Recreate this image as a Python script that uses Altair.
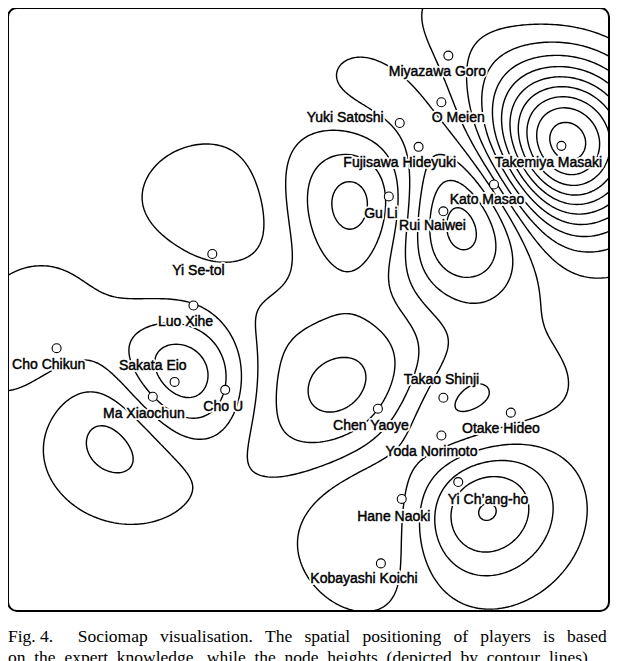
import numpy as np
import pandas as pd
import altair as alt
from collections import defaultdict

# ---------------- data (reference pixel space) ----------------
players = ["Miyazawa Goro", "O Meien", "Yuki Satoshi", "Fujisawa Hideyuki",
           "Takemiya Masaki", "Kato Masao", "Gu Li", "Rui Naiwei",
           "Yi Se-tol", "Luo Xihe", "Cho Chikun", "Sakata Eio", "Ma Xiaochun",
           "Cho U", "Chen Yaoye", "Takao Shinji", "Otake Hideo", "Yoda Norimoto",
           "Yi Ch\u2019ang-ho", "Hane Naoki", "Kobayashi Koichi"]
node_x = [447, 440, 398, 417, 561, 493, 387, 442, 209, 190, 52, 171, 149,
          222, 376, 442, 510, 440, 457, 400, 379]
node_y = [51, 98, 119, 143, 142, 181, 193, 208, 251, 303, 346, 380, 395,
          388, 407, 396, 411, 434, 481, 498, 563]
node_height = [2, 1, 0, 0, 12, 1, 3, -3, 0, 1, 0, -4, 1,
               0, 3, 0, 0, -1, 4, 0, 0]
label_x = [436, 457, 343, 398, 548, 486, 379, 431, 195, 182, 44, 149, 140,
           220, 369, 440, 500, 430, 487, 392, 362]
label_y = [68, 114, 114, 159, 159, 197, 211, 223, 268, 320, 363, 364, 412,
           405, 424, 378, 427, 451, 499, 516, 579]

caption = [
    "Fig. 4.\u2003\u2009\u2009Sociomap\u2002\u2009visualisation.\u2002\u2009The\u2002\u2009spatial\u2002\u2009positioning\u2002\u2009of\u2002\u2009players\u2002\u2009is\u2002\u2009based",
    "on\u2002the\u2002expert\u2002knowledge,\u2002while\u2002the\u2002node\u2002heights\u2002(depicted\u2002by\u2002contour\u2002lines)",
]

X0, X1, Y0, Y1 = 3, 609, 3, 611   # frame extent in the reference

# ---------------- height surface: Gaussian radial-basis surface through node heights ----------------
SIGMA, LAM = 60.0, 0.1
nx_, ny_ = np.array(node_x, float), np.array(node_y, float)
hh = np.array(node_height, float)
DN = np.sqrt((nx_[:, None] - nx_) ** 2 + (ny_[:, None] - ny_) ** 2)
base = hh.mean()
wts = np.linalg.solve(np.exp(-(DN / SIGMA) ** 2 / 2) + LAM * np.eye(len(hh)), hh - base)

xs = np.linspace(X0, X1, 244)
ys = np.linspace(Y0, Y1, 246)
GX, GY = np.meshgrid(xs, ys)
D = np.sqrt((GX[..., None] - nx_) ** 2 + (GY[..., None] - ny_) ** 2)
Z = (np.exp(-(D / SIGMA) ** 2 / 2) * wts).sum(-1) + base


def contour_lines(Z, xs, ys, level):
    above = Z > level
    a = above[:-1, :-1]; b = above[:-1, 1:]; c = above[1:, 1:]; d = above[1:, :-1]
    code = a * 1 + b * 2 + c * 4 + d * 8
    js, iss = np.nonzero((code != 0) & (code != 15))
    segs = []
    for j, i in zip(js, iss):
        k = code[j, i]
        E = {0: ("h", j, i), 1: ("v", j, i + 1), 2: ("h", j + 1, i), 3: ("v", j, i)}
        if k in (5, 10):
            cen = (Z[j, i] + Z[j, i + 1] + Z[j + 1, i] + Z[j + 1, i + 1]) / 4 > level
            pairs = [(0, 1), (2, 3)] if (k == 5) == cen else [(3, 0), (1, 2)]
        else:
            cr = []
            if a[j, i] != b[j, i]: cr.append(0)
            if b[j, i] != c[j, i]: cr.append(1)
            if d[j, i] != c[j, i]: cr.append(2)
            if a[j, i] != d[j, i]: cr.append(3)
            pairs = [(cr[0], cr[1])]
        for p, q in pairs:
            segs.append((E[p], E[q]))

    def pt(key):
        t_, j, i = key
        if t_ == "h":
            z0, z1 = Z[j, i], Z[j, i + 1]
            t = (level - z0) / (z1 - z0)
            return xs[i] + t * (xs[i + 1] - xs[i]), ys[j]
        z0, z1 = Z[j, i], Z[j + 1, i]
        t = (level - z0) / (z1 - z0)
        return xs[i], ys[j] + t * (ys[j + 1] - ys[j])

    adj = defaultdict(list)
    for s, (k1, k2) in enumerate(segs):
        adj[k1].append(s); adj[k2].append(s)
    used = [False] * len(segs)

    def walk(s, key):
        chain = [key]
        while True:
            used[s] = True
            k1, k2 = segs[s]
            nxt = k2 if k1 == key else k1
            chain.append(nxt)
            cand = [t for t in adj[nxt] if not used[t]]
            if not cand:
                break
            s, key = cand[0], nxt
        return chain

    chains = []
    for key, lst in list(adj.items()):
        if len(lst) == 1 and not used[lst[0]]:
            chains.append(walk(lst[0], key))
    for s in range(len(segs)):
        if not used[s]:
            chains.append(walk(s, segs[s][0]))
    return [[pt(k) for k in ch] for ch in chains]


rows = []
lid = 0
for lev in np.arange(np.floor(Z.min()) + 0.5, Z.max(), 1.0):
    for ch in contour_lines(Z, xs, ys, lev):
        for k, (px, py) in enumerate(ch):
            rows.append((lid, k, px, py))
        lid += 1
contours = pd.DataFrame(rows, columns=["line", "k", "x", "y"])

nodes = pd.DataFrame({"player": players, "x": node_x, "y": node_y,
                      "lx": label_x, "ly": label_y})

xsc = alt.Scale(domain=[X0, X1], nice=False, zero=False)
ysc = alt.Scale(domain=[Y0, Y1], nice=False, zero=False, reverse=True)

lines = alt.Chart(contours).mark_line(color="black", strokeWidth=1.4, clip=True,
                                      strokeJoin="round", strokeCap="round").encode(
    x=alt.X("x:Q", scale=xsc, axis=None),
    y=alt.Y("y:Q", scale=ysc, axis=None),
    detail="line:N",
    order="k:Q",
)

circles = alt.Chart(nodes).mark_circle(size=80, fill="white", stroke="black",
                                       strokeWidth=1.1, opacity=1).encode(
    x=alt.X("x:Q", scale=xsc), y=alt.Y("y:Q", scale=ysc))

font = "Liberation Sans, Arial, sans-serif"
halo = alt.Chart(nodes).mark_text(font=font, fontSize=14, fill="white", stroke="white",
                                  strokeWidth=4, strokeJoin="round",
                                  baseline="middle", align="center").encode(
    x=alt.X("lx:Q", scale=xsc), y=alt.Y("ly:Q", scale=ysc), text="player:N")
labels = alt.Chart(nodes).mark_text(font=font, fontSize=14, color="black",
                                    stroke="black", strokeWidth=0.45,
                                    baseline="middle", align="center").encode(
    x=alt.X("lx:Q", scale=xsc), y=alt.Y("ly:Q", scale=ysc), text="player:N")

chart = alt.layer(lines, circles, halo, labels).properties(
    width=601, height=603,
    autosize=alt.AutoSizeParams(type="none"),
    padding={"left": 0, "top": 0, "right": 15, "bottom": 50},
    title=alt.TitleParams(caption, orient="bottom", anchor="start",
                          font="Liberation Serif", fontSize=17.5, fontWeight="normal",
                          color="black", baseline="alphabetic", offset=31, lineHeight=21),
).configure_view(stroke="black", strokeWidth=2, cornerRadius=9)

chart.save("out.html", embed_options={"renderer": "svg", "actions": False})
